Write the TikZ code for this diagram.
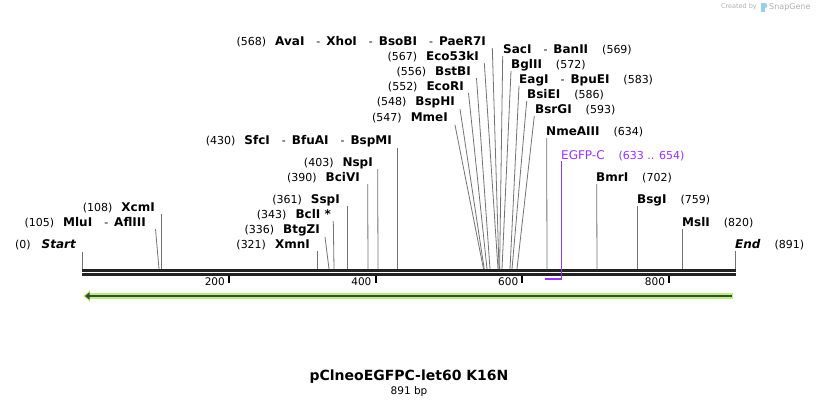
\documentclass[tikz,border=0pt]{standalone}
\usepackage{fontspec}
\setmainfont{DejaVu Sans}
\usetikzlibrary{arrows.meta}
\definecolor{sitegray}{RGB}{115,115,115}
\definecolor{bbone}{RGB}{34,34,34}
\definecolor{featpurple}{RGB}{153,51,255}
\definecolor{lightgreen}{RGB}{184,240,128}
\definecolor{darkgreen}{RGB}{62,74,56}
\definecolor{wmgray}{RGB}{175,175,175}
\definecolor{wmblue}{RGB}{150,205,240}
\newcommand\nm[1]{{\fontsize{12}{14}\selectfont\bfseries #1}}
\newcommand\nmi[1]{{\fontsize{12}{14}\selectfont\bfseries\itshape #1}}
\newcommand\ps[1]{{\fontsize{11}{13}\selectfont #1}}
\newcommand\numgap{\hspace{9pt}}
\newcommand\dgap{\hspace{12pt}\ps{-}\hspace{6pt}}
\newcommand\rgap{\hspace{14pt}}
\begin{document}
\begin{tikzpicture}[x=1pt,y=-1pt,
  lblL/.style={anchor=base east,inner sep=0pt},
  lblR/.style={anchor=base west,inner sep=0pt},
  site/.style={draw=sitegray,line width=0.8pt},
  feat/.style={draw=featpurple,line width=1pt},
  tickmark/.style={draw=black,line width=2pt},
  ticklbl/.style={anchor=east,inner sep=0pt,font=\fontsize{10.5}{12}\selectfont}]
\useasboundingbox (0,0) rectangle (818,408);
\fill[white] (0,0) rectangle (818,408);

% watermark
\node[anchor=east,inner sep=0pt,text=wmgray,font=\fontsize{6.5}{8}\selectfont] (wm1) at (757,7) {Created by};
\fill[wmblue] (761,3) rectangle (764.5,12);
\fill[wmblue] (764.5,3) .. controls (768,3) and (768,8) .. (764.5,8) -- cycle;
\node[anchor=west,inner sep=0pt,text=wmgray,font=\fontsize{8}{9}\selectfont] (wm2) at (769,7) {SnapGene};

% backbone
\fill[bbone] (82,269) rectangle (736,272.3);
\fill[bbone] (82,273.4) rectangle (736,276.2);

% ticks
\coordinate (k2t) at (229,276); \coordinate (k2b) at (229,283);
\coordinate (k4t) at (375.6,276); \coordinate (k4b) at (375.6,283);
\coordinate (k6t) at (522.4,276); \coordinate (k6b) at (522.4,283);
\coordinate (k8t) at (669.2,276); \coordinate (k8b) at (669.2,283);
\draw[tickmark] (k2t) -- (k2b); \draw[tickmark] (k4t) -- (k4b);
\draw[tickmark] (k6t) -- (k6b); \draw[tickmark] (k8t) -- (k8b);
\node[ticklbl] (t200) at (225,282) {200};
\node[ticklbl] (t400) at (371.6,282) {400};
\node[ticklbl] (t600) at (518.4,282) {600};
\node[ticklbl] (t800) at (665.2,282) {800};

% green arrow
\coordinate (gTail) at (733,296);
\coordinate (gTip) at (83,296);
\coordinate (dTail) at (732,296);
\coordinate (dTip) at (85,296);
\draw[lightgreen,line width=5.5pt,-{Triangle[length=7pt,width=11pt]}] (gTail) -- (gTip);
\draw[darkgreen,line width=2.3pt,-{Triangle[length=4.5pt,width=7pt]}] (dTail) -- (dTip);

% purple feature bar
\draw[featpurple,line width=1.8pt] (545,278.8) -- (560.5,278.8);

% left labels
\node[lblL] (lStart) at (76,248) {\ps{(0)}\hspace{11pt}\nmi{Start}};
\node[lblL] (lMlu) at (146,226) {\ps{(105)}\numgap\nm{MluI}\dgap\nm{AflIII}};
\node[lblL] (lXcm) at (155,211) {\ps{(108)}\numgap\nm{XcmI}};
\node[lblL] (lXmn) at (310,248) {\ps{(321)}\numgap\nm{XmnI}};
\node[lblL] (lBtg) at (320,233) {\ps{(336)}\numgap\nm{BtgZI}};
\node[lblL] (lBcl) at (331,218) {\ps{(343)}\numgap\nm{BclI *}};
\node[lblL] (lSsp) at (340,203) {\ps{(361)}\numgap\nm{SspI}};
\node[lblL] (lBci) at (360,181) {\ps{(390)}\numgap\nm{BciVI}};
\node[lblL] (lNsp) at (373,166) {\ps{(403)}\numgap\nm{NspI}};
\node[lblL] (lSfc) at (392,144) {\ps{(430)}\numgap\nm{SfcI}\dgap\nm{BfuAI}\dgap\nm{BspMI}};
\node[lblL] (lMme) at (448,121) {\ps{(547)}\numgap\nm{MmeI}};
\node[lblL] (lBsp) at (455,105) {\ps{(548)}\numgap\nm{BspHI}};
\node[lblL] (lEco) at (464,90) {\ps{(552)}\numgap\nm{EcoRI}};
\node[lblL] (lBst) at (471,75) {\ps{(556)}\numgap\nm{BstBI}};
\node[lblL] (lE53) at (479,60) {\ps{(567)}\numgap\nm{Eco53kI}};
\node[lblL] (lAva) at (486,45) {\ps{(568)}\numgap\nm{AvaI}\dgap\nm{XhoI}\dgap\nm{BsoBI}\dgap\nm{PaeR7I}};

% right labels
\node[lblR] (rSac) at (503,53) {\nm{SacI}\dgap\nm{BanII}\rgap\ps{(569)}};
\node[lblR] (rBgl) at (511,68) {\nm{BglII}\rgap\ps{(572)}};
\node[lblR] (rEag) at (519,83) {\nm{EagI}\dgap\nm{BpuEI}\rgap\ps{(583)}};
\node[lblR] (rBsi) at (527,98) {\nm{BsiEI}\rgap\ps{(586)}};
\node[lblR] (rBsr) at (535,113) {\nm{BsrGI}\rgap\ps{(593)}};
\node[lblR] (rNme) at (546,135) {\nm{NmeAIII}\rgap\ps{(634)}};
\node[lblR,text=featpurple] (rEGFP) at (561,159) {{\fontsize{12}{14}\selectfont EGFP-C}\rgap{\fontsize{11}{13}\selectfont(633 .. 654)}};
\node[lblR] (rBmr) at (596,181) {\nm{BmrI}\rgap\ps{(702)}};
\node[lblR] (rBsg) at (637,203) {\nm{BsgI}\rgap\ps{(759)}};
\node[lblR] (rMsl) at (682,226) {\nm{MslI}\rgap\ps{(820)}};
\node[lblR] (rEnd) at (735,248) {\nmi{End}\rgap\ps{(891)}};

% site line coordinates
\coordinate (aStart) at (82,252);    \coordinate (bStart) at (82,269);
\coordinate (aMlu) at (155.5,229);   \coordinate (bMlu) at (159,269);
\coordinate (aXcm) at (161.5,214);   \coordinate (bXcm) at (161.5,269);
\coordinate (aXmn) at (317.5,251);   \coordinate (bXmn) at (317.5,269);
\coordinate (aBtg) at (325,237);     \coordinate (bBtg) at (329,269);
\coordinate (aBcl) at (333.3,221);   \coordinate (bBcl) at (334,269);
\coordinate (aSsp) at (347,206);     \coordinate (bSsp) at (347,269);
\coordinate (aBci) at (367.7,184);   \coordinate (bBci) at (368,269);
\coordinate (aNsp) at (377.7,169);   \coordinate (bNsp) at (378,269);
\coordinate (aSfc) at (397.7,148);   \coordinate (bSfc) at (397.7,269);
\coordinate (aMme) at (455,125);     \coordinate (bMme) at (483.5,269);
\coordinate (aBsp) at (460,109);     \coordinate (bBsp) at (484.2,269);
\coordinate (aEco) at (468.5,93);    \coordinate (bEco) at (487,269);
\coordinate (aBst) at (476.5,78);    \coordinate (bBst) at (490,269);
\coordinate (aE53) at (484.3,63);    \coordinate (bE53) at (498,269);
\coordinate (aAva) at (492.3,48);    \coordinate (bAva) at (499,269);
\coordinate (aSac) at (502.7,56);    \coordinate (bSac) at (499.6,269);
\coordinate (aBgl) at (511,71);      \coordinate (bBgl) at (502,269);
\coordinate (aEag) at (519,86);      \coordinate (bEag) at (510,269);
\coordinate (aBsi) at (526.7,101);   \coordinate (bBsi) at (512,269);
\coordinate (aBsr) at (534.3,116);   \coordinate (bBsr) at (517,269);
\coordinate (aNme) at (546.7,138);   \coordinate (bNme) at (547,269);
\coordinate (aEGFP) at (561.7,161);  \coordinate (bEGFP) at (561.7,279.6);
\coordinate (aBmr) at (596.7,184);   \coordinate (bBmr) at (597,269);
\coordinate (aBsg) at (637.3,206);   \coordinate (bBsg) at (637.3,269);
\coordinate (aMsl) at (682.3,229);   \coordinate (bMsl) at (682.3,269);
\coordinate (aEnd) at (735.5,251);   \coordinate (bEnd) at (735.5,269);

\foreach \s in {Start,Mlu,Xcm,Xmn,Btg,Bcl,Ssp,Bci,Nsp,Sfc,Mme,Bsp,Eco,Bst,E53,Ava,Sac,Bgl,Eag,Bsi,Bsr,Nme,Bmr,Bsg,Msl,End}
  \draw[site] (a\s) -- (b\s);
\draw[feat] (aEGFP) -- (bEGFP);

% title
\node[inner sep=0pt,font=\fontsize{14}{16}\selectfont\bfseries] (title) at (409,377) {pClneoEGFPC-let60 K16N};
\node[inner sep=0pt,font=\fontsize{10.5}{12}\selectfont] (size) at (409,392) {891 bp};
\end{tikzpicture}
\end{document}
